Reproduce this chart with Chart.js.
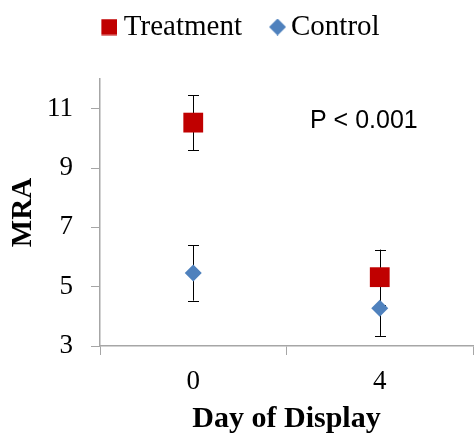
<!DOCTYPE html>
<html>
<head>
<meta charset="utf-8">
<script src="https://cdn.jsdelivr.net/npm/chart.js@4"></script>
<style>
  body { margin: 0; background: #fff; }
  #wrap { width: 474px; height: 437px; }
</style>
</head>
<body>
<div id="wrap"><canvas id="myChart" width="474" height="437"></canvas></div>
<script>
const days = ['0', '4'];
const treatmentMean = [10.53, 5.32];
const treatmentErr = [0.93, 0.93];
const controlMean = [5.46, 4.27];
const controlErr = [0.93, 0.93];
const yTicks = [3, 5, 7, 9, 11];

const red = '#C00000';
const blue = '#4F81BD';
const axisGray = '#A6A6A6';
const serif = "'Liberation Serif', 'Times New Roman', serif";

// legend symbols: small canvases, shape pushed to the right so it sits close to its text
function legendIcon(kind, color) {
    const c = document.createElement('canvas');
    c.width = kind === 'square' ? 32 : 35;
    c.height = 17;
    const g = c.getContext('2d');
    g.fillStyle = color;
    if (kind === 'square') {
        g.fillRect(16, 0.5, 16, 16);
    } else {
        g.beginPath();
        g.moveTo(18, 8.5); g.lineTo(26.5, 0); g.lineTo(35, 8.5); g.lineTo(26.5, 17);
        g.closePath();
        g.fill();
    }
    return c;
}
const icons = [legendIcon('square', red), legendIcon('diamond', blue)];

// error bars drawn under the markers
const errorBars = {
    id: 'errorBars',
    beforeDatasetsDraw(chart) {
        const ctx = chart.ctx;
        const x = chart.scales.x, y = chart.scales.y;
        const sets = [[treatmentMean, treatmentErr], [controlMean, controlErr]];
        ctx.save();
        ctx.strokeStyle = '#000';
        ctx.lineWidth = 1;
        sets.forEach(([mean, err]) => {
            mean.forEach((m, i) => {
                const px = Math.round(x.getPixelForValue(i)) + 0.5;
                const top = y.getPixelForValue(m + err[i]);
                const bot = y.getPixelForValue(m - err[i]);
                ctx.beginPath();
                ctx.moveTo(px, top); ctx.lineTo(px, bot);
                ctx.moveTo(px - 5.5, Math.round(top) + 0.5); ctx.lineTo(px + 5.5, Math.round(top) + 0.5);
                ctx.moveTo(px - 5.5, Math.round(bot) + 0.5); ctx.lineTo(px + 5.5, Math.round(bot) + 0.5);
                ctx.stroke();
            });
        });
        ctx.restore();
    }
};

// the legend sits higher than the layout puts it
const legendShift = {
    id: 'legendShift',
    afterLayout(chart) {
        chart.legend.top -= 27.5;
        chart.legend.bottom -= 27.5;
    }
};

// "P < 0.001" annotation
const pLabel = {
    id: 'pLabel',
    afterDraw(chart) {
        const ctx = chart.ctx;
        ctx.save();
        ctx.font = "25px 'Liberation Sans', Arial, sans-serif";
        ctx.fillStyle = '#000';
        ctx.textBaseline = 'middle';
        ctx.fillText('P < 0.001', 310, 121);
        ctx.restore();
    }
};

const chart = new Chart(document.getElementById('myChart'), {
    type: 'line',
    data: {
        labels: days,
        datasets: [{
            label: 'Treatment',
            data: treatmentMean,
            showLine: false,
            pointStyle: 'rect',
            pointRadius: 14,
            pointHoverRadius: 14,
            backgroundColor: red,
            borderColor: red,
            borderWidth: 0
        }, {
            label: 'Control',
            data: controlMean,
            showLine: false,
            pointStyle: 'rectRot',
            pointRadius: 8.5,
            pointHoverRadius: 8.5,
            backgroundColor: blue,
            borderColor: blue,
            borderWidth: 0
        }]
    },
    options: {
        responsive: false,
        animation: false,
        layout: { autoPadding: false, padding: { top: 21.5, right: 1, left: 0, bottom: 0 } },
        plugins: {
            tooltip: { enabled: false },
            legend: {
                position: 'top',
                labels: {
                    usePointStyle: true,
                    boxHeight: 16,
                    boxWidth: 16,
                    padding: 18.5,
                    color: '#000',
                    font: { family: serif, size: 29 },
                    generateLabels(chart) {
                        const items = Chart.defaults.plugins.legend.labels.generateLabels(chart);
                        items.forEach((it, i) => { it.pointStyle = icons[i]; });
                        return items;
                    }
                }
            }
        },
        scales: {
            x: {
                type: 'category',
                offset: true,
                grid: {
                    offset: true,
                    drawOnChartArea: false,
                    drawTicks: true,
                    tickLength: 9,
                    color: axisGray
                },
                border: { color: axisGray, width: 1.5 },
                ticks: { color: '#000', font: { family: serif, size: 27 }, padding: 11 },
                title: {
                    display: true,
                    text: 'Day of Display',
                    color: '#000',
                    font: { family: serif, size: 30, weight: 'bold' },
                    padding: { top: 0, bottom: 0 }
                },
                afterFit(scale) {
                    scale.height = 91;
                    scale.paddingLeft = 0;
                    scale.paddingRight = 0;
                }
            },
            y: {
                min: 3,
                max: 12,
                afterBuildTicks(scale) { scale.ticks = yTicks.map(v => ({ value: v })); },
                grid: {
                    drawOnChartArea: false,
                    drawTicks: true,
                    tickLength: 9,
                    color: axisGray
                },
                border: { color: axisGray, width: 1.5 },
                ticks: { color: '#000', font: { family: serif, size: 27 }, padding: 18 },
                title: {
                    display: true,
                    text: 'MRA',
                    color: '#000',
                    font: { family: serif, size: 29, weight: 'bold' },
                    padding: { top: 6, bottom: 0 }
                },
                afterFit(scale) {
                    scale.width = 100;
                    scale.paddingTop = 0;
                    scale.paddingBottom = 0;
                }
            }
        }
    },
    plugins: [errorBars, legendShift, pLabel]
});
</script>
</body>
</html>
